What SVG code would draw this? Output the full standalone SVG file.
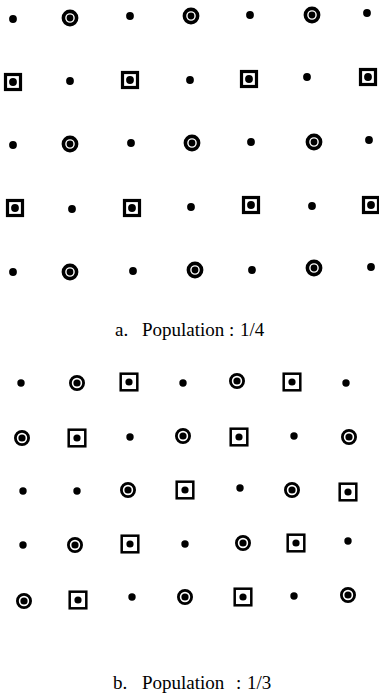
<svg xmlns="http://www.w3.org/2000/svg" xmlns:xlink="http://www.w3.org/1999/xlink" width="379" height="695" viewBox="0 0 379 695">
<style>
.cap{font-family:"Liberation Serif","Times New Roman",serif;font-size:19px;fill:#000}
</style>
<defs>
<g id="dotA"><circle r="3.9" fill="#000"/></g>
<g id="ringA"><circle r="6.6" fill="none" stroke="#000" stroke-width="3.6"/><circle r="3.4" fill="#000"/></g>
<g id="boxA"><rect x="-7.5" y="-7.5" width="15" height="15" fill="none" stroke="#000" stroke-width="3.2"/><circle r="3.9" fill="#000"/></g>
<g id="dotB"><circle r="3.7" fill="#000"/></g>
<g id="ringB"><circle r="6.6" fill="none" stroke="#000" stroke-width="2.8"/><circle r="3.6" fill="#000"/></g>
<g id="boxB"><rect x="-8.3" y="-8.3" width="16.6" height="16.6" fill="none" stroke="#000" stroke-width="2.5"/><circle r="3.6" fill="#000"/></g>
</defs>
<rect width="379" height="695" fill="#fff"/>
<g id="connectors"/>
<g id="panelA">
<g id="a11"><use xlink:href="#dotA" x="13" y="19"/></g>
<g id="a12"><use xlink:href="#ringA" x="70" y="18"/></g>
<g id="a13"><use xlink:href="#dotA" x="130" y="16"/></g>
<g id="a14"><use xlink:href="#ringA" x="191" y="16"/></g>
<g id="a15"><use xlink:href="#dotA" x="250" y="15"/></g>
<g id="a16"><use xlink:href="#ringA" x="312" y="15"/></g>
<g id="a17"><use xlink:href="#dotA" x="367" y="13"/></g>
<g id="a21"><use xlink:href="#boxA" x="13" y="82"/></g>
<g id="a22"><use xlink:href="#dotA" x="70" y="81"/></g>
<g id="a23"><use xlink:href="#boxA" x="130" y="80"/></g>
<g id="a24"><use xlink:href="#dotA" x="190" y="80"/></g>
<g id="a25"><use xlink:href="#boxA" x="249" y="79"/></g>
<g id="a26"><use xlink:href="#dotA" x="307" y="77"/></g>
<g id="a27"><use xlink:href="#boxA" x="368" y="77"/></g>
<g id="a31"><use xlink:href="#dotA" x="13" y="145"/></g>
<g id="a32"><use xlink:href="#ringA" x="70" y="144"/></g>
<g id="a33"><use xlink:href="#dotA" x="131" y="143"/></g>
<g id="a34"><use xlink:href="#ringA" x="192" y="143"/></g>
<g id="a35"><use xlink:href="#dotA" x="251" y="142"/></g>
<g id="a36"><use xlink:href="#ringA" x="314" y="142"/></g>
<g id="a37"><use xlink:href="#dotA" x="369" y="140"/></g>
<g id="a41"><use xlink:href="#boxA" x="15" y="208"/></g>
<g id="a42"><use xlink:href="#dotA" x="72" y="209"/></g>
<g id="a43"><use xlink:href="#boxA" x="132" y="208"/></g>
<g id="a44"><use xlink:href="#dotA" x="191" y="207"/></g>
<g id="a45"><use xlink:href="#boxA" x="251" y="205"/></g>
<g id="a46"><use xlink:href="#dotA" x="312" y="206"/></g>
<g id="a47"><use xlink:href="#boxA" x="371" y="205"/></g>
<g id="a51"><use xlink:href="#dotA" x="13" y="272"/></g>
<g id="a52"><use xlink:href="#ringA" x="70" y="272"/></g>
<g id="a53"><use xlink:href="#dotA" x="133" y="271"/></g>
<g id="a54"><use xlink:href="#ringA" x="195" y="270"/></g>
<g id="a55"><use xlink:href="#dotA" x="252" y="270"/></g>
<g id="a56"><use xlink:href="#ringA" x="314" y="268"/></g>
<g id="a57"><use xlink:href="#dotA" x="371" y="267"/></g>
</g>
<g id="captionA"><text class="cap" y="336"><tspan x="115">a.</tspan><tspan x="142">Population</tspan><tspan x="229">:</tspan><tspan x="240">1/4</tspan></text></g>
<g id="panelB">
<g id="b11"><use xlink:href="#dotB" x="21" y="383"/></g>
<g id="b12"><use xlink:href="#ringB" x="77" y="383"/></g>
<g id="b13"><use xlink:href="#boxB" x="129" y="382"/></g>
<g id="b14"><use xlink:href="#dotB" x="183" y="383"/></g>
<g id="b15"><use xlink:href="#ringB" x="237" y="381"/></g>
<g id="b16"><use xlink:href="#boxB" x="292" y="382"/></g>
<g id="b17"><use xlink:href="#dotB" x="346" y="383"/></g>
<g id="b21"><use xlink:href="#ringB" x="22" y="438"/></g>
<g id="b22"><use xlink:href="#boxB" x="77" y="438"/></g>
<g id="b23"><use xlink:href="#dotB" x="130" y="437"/></g>
<g id="b24"><use xlink:href="#ringB" x="183" y="436"/></g>
<g id="b25"><use xlink:href="#boxB" x="239" y="437"/></g>
<g id="b26"><use xlink:href="#dotB" x="294" y="436"/></g>
<g id="b27"><use xlink:href="#ringB" x="349" y="437"/></g>
<g id="b31"><use xlink:href="#dotB" x="23" y="491"/></g>
<g id="b32"><use xlink:href="#dotB" x="77" y="491"/></g>
<g id="b33"><use xlink:href="#ringB" x="128" y="490"/></g>
<g id="b34"><use xlink:href="#boxB" x="185" y="490"/></g>
<g id="b35"><use xlink:href="#dotB" x="240" y="488"/></g>
<g id="b36"><use xlink:href="#ringB" x="292" y="490"/></g>
<g id="b37"><use xlink:href="#boxB" x="348" y="492"/></g>
<g id="b41"><use xlink:href="#dotB" x="23" y="545"/></g>
<g id="b42"><use xlink:href="#ringB" x="75" y="545"/></g>
<g id="b43"><use xlink:href="#boxB" x="130" y="544"/></g>
<g id="b44"><use xlink:href="#dotB" x="185" y="544"/></g>
<g id="b45"><use xlink:href="#ringB" x="243" y="543"/></g>
<g id="b46"><use xlink:href="#boxB" x="296" y="543"/></g>
<g id="b47"><use xlink:href="#dotB" x="348" y="541"/></g>
<g id="b51"><use xlink:href="#ringB" x="24" y="601"/></g>
<g id="b52"><use xlink:href="#boxB" x="78" y="600"/></g>
<g id="b53"><use xlink:href="#dotB" x="132" y="597"/></g>
<g id="b54"><use xlink:href="#ringB" x="185" y="597"/></g>
<g id="b55"><use xlink:href="#boxB" x="243" y="597"/></g>
<g id="b56"><use xlink:href="#dotB" x="294" y="596"/></g>
<g id="b57"><use xlink:href="#ringB" x="348" y="595"/></g>
</g>
<g id="captionB"><text class="cap" y="689"><tspan x="113">b.</tspan><tspan x="142">Population</tspan><tspan x="236">:</tspan><tspan x="247">1/3</tspan></text></g>
</svg>
